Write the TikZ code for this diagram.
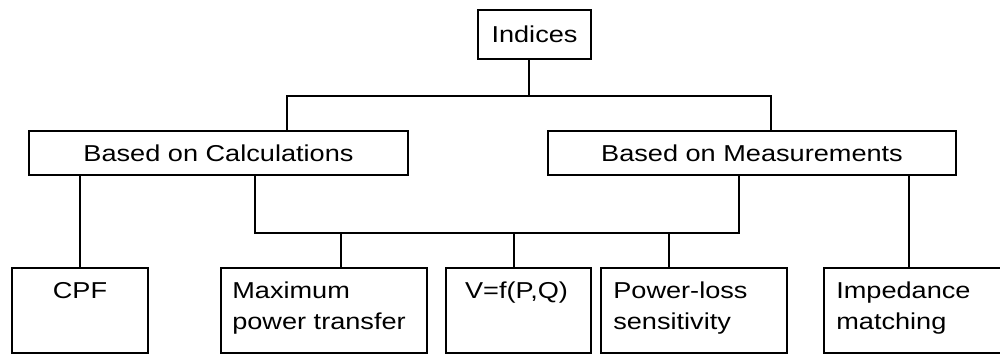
\documentclass[tikz,border=0pt]{standalone}
\usepackage{fontspec}
\setmainfont[FakeStretch=1.18]{Liberation Sans}
\usetikzlibrary{positioning,calc}

\begin{document}
\begin{tikzpicture}[x=1pt,y=-1pt,
  box/.style={draw,line width=1.8pt,inner sep=0pt,font=\fontsize{23}{31}\selectfont},
  leaf/.style={box,minimum height=85},
  txt/.style={inner sep=0pt,align=left,font=\fontsize{23}{31}\selectfont},
  wire/.style={line width=1.8pt}]
\useasboundingbox (0,0) rectangle (1000,356);
% top levels
\node[box,minimum width=113,minimum height=49] (ind) at (534.5,34.5) {Indices};
\node[box,minimum width=379,minimum height=44] (calc) at (218.5,153) {Based on Calculations};
\node[box,minimum width=408,minimum height=44] (meas) at (752,153) {Based on Measurements};
% leaves
\node[leaf,minimum width=136] (cpf) at (80,310.5) {};
\node[leaf,minimum width=206] (maxp) at (324,310.5) {};
\node[leaf,minimum width=145] (vfpq) at (518.5,310.5) {};
\node[leaf,minimum width=186] (ploss) at (694,310.5) {};
\node[leaf,minimum width=180] (imp) at (914,310.5) {};
\node[txt,anchor=north] (cpft) at ([yshift=-15pt]cpf.north) {CPF};
\node[txt,anchor=north west] (maxt) at ([shift={(12pt,-15pt)}]maxp.north west) {Maximum\\power transfer};
\node[txt,anchor=north] (vfpqt) at ([shift={(-2pt,-15pt)}]vfpq.north) {V=f(P,Q)};
\node[txt,anchor=north west] (plosst) at ([shift={(13pt,-15pt)}]ploss.north west) {Power-loss\\sensitivity};
\node[txt,anchor=north west] (impt) at ([shift={(13pt,-15pt)}]imp.north west) {Impedance\\matching};
% connectors
\coordinate (topbus) at (529,96);
\coordinate (lowbus) at (514,233);
\coordinate (impin) at ([xshift=-5pt]imp.north);
\draw[wire] ([xshift=-5.5pt]ind.south) -- (topbus);
\draw[wire] ([xshift=68.5pt]calc.north) |- (topbus) -| ([xshift=19pt]meas.north);
\draw[wire] (cpf.north) -- (cpf.north |- calc.south);
\draw[wire] ([xshift=36.5pt]calc.south) |- (lowbus) -| ([xshift=-13pt]meas.south);
\draw[wire] ([xshift=17pt]maxp.north) |- (lowbus);
\draw[wire] (vfpq.north -| lowbus) -- (lowbus);
\draw[wire] ([xshift=-25pt]ploss.north) |- (lowbus);
\draw[wire] (impin) -- (impin |- meas.south);
\end{tikzpicture}
\end{document}
